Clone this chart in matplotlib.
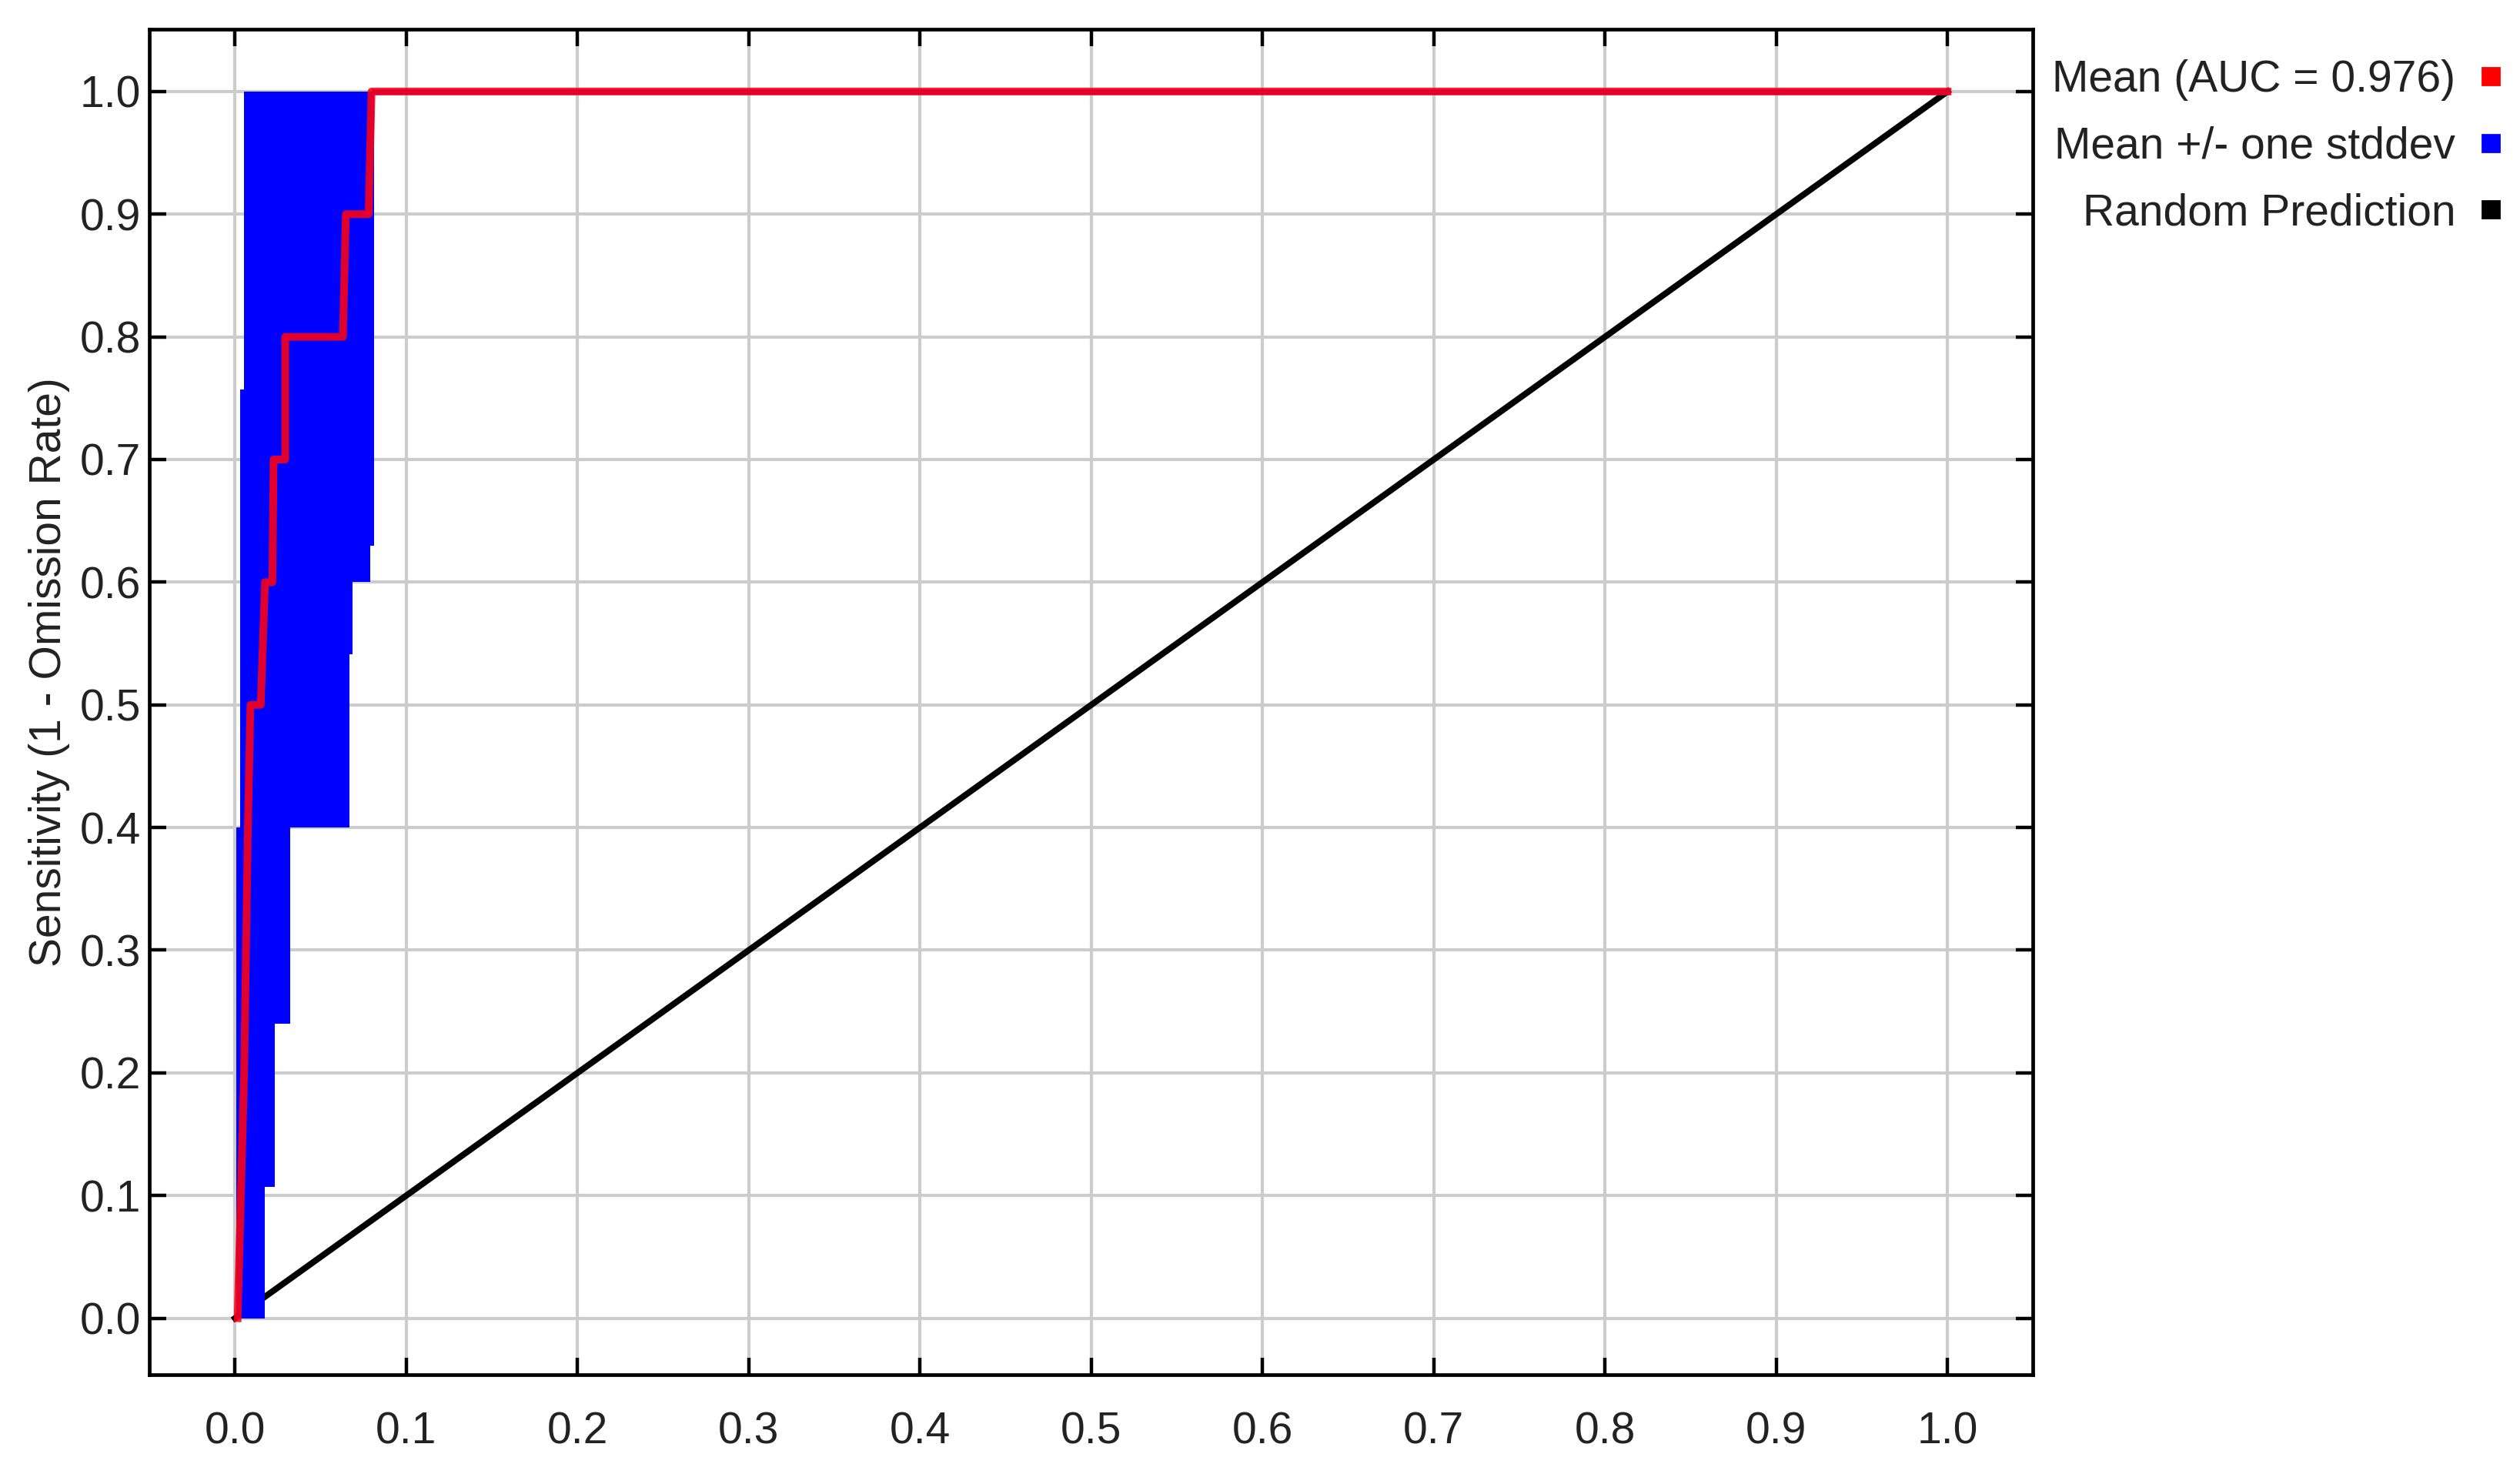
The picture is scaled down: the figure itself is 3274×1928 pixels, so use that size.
import matplotlib
matplotlib.use('Agg')
import matplotlib.pyplot as plt
from matplotlib.lines import Line2D

plt.rcParams['font.family'] = ['Liberation Sans', 'DejaVu Sans']

# mean ROC curve (1 - specificity, sensitivity)
mean_fpr = [0.0015, 0.0053, 0.0075, 0.009, 0.015, 0.0175, 0.0218, 0.0225, 0.0293,
            0.0293, 0.063, 0.0647, 0.078, 0.0797, 1.0]
mean_tpr = [0.0, 0.2, 0.4, 0.5, 0.5, 0.6, 0.6, 0.7, 0.7,
            0.8, 0.8, 0.9, 0.9, 1.0, 1.0]

# mean +/- one stddev band (left / right bounds per sensitivity level)
band_tpr = [0.0, 0.107, 0.24, 0.40, 0.541, 0.60, 0.63, 0.757, 1.0]
band_left = [0.0008, 0.0008, 0.0008, 0.003, 0.003, 0.003, 0.003, 0.0053, 0.0053]
band_right = [0.0173, 0.0233, 0.0323, 0.0669, 0.0684, 0.079, 0.0812, 0.0812, 0.0812]

rand_x = [0.0, 1.0]
rand_y = [0.0, 1.0]

ticks = [0.0, 0.1, 0.2, 0.3, 0.4, 0.5, 0.6, 0.7, 0.8, 0.9, 1.0]
labels = ['Mean (AUC = 0.976)', 'Mean +/- one stddev', 'Random Prediction']
colors = ['#ff0000', '#0000ff', '#000000']

fig = plt.figure(figsize=(16.37, 9.64), dpi=200)
ax = fig.add_axes([0.0593, 0.0737, 0.7475, 0.9068])

ax.plot(rand_x, rand_y, color='black', lw=2.9, zorder=2)
ax.fill_betweenx(band_tpr, band_left, band_right, step='post', color='#0000ff',
                 lw=0, zorder=3)
ax.plot([band_right[-1], 1.0], [1.0, 1.0], color='#0000ff', lw=2.5, zorder=3)
ax.plot(mean_fpr, mean_tpr, color='#ff0010', lw=3.6, alpha=0.88, zorder=4)

ax.set_xlim(-0.05, 1.05)
ax.set_ylim(-0.046, 1.051)
ax.set_xticks(ticks)
ax.set_yticks(ticks)
ax.set_xticklabels(['%.1f' % t for t in ticks])
ax.set_yticklabels(['%.1f' % t for t in ticks])
ax.grid(True, color='#cccccc', lw=1.5, zorder=0)
ax.set_axisbelow(True)

ax.tick_params(direction='in', length=8, width=1.6, top=True, right=True,
               labelsize=20.5, labelcolor='#222222')
ax.tick_params(axis='x', pad=17)
ax.tick_params(axis='y', pad=4)
for s in ax.spines.values():
    s.set_linewidth(1.7)

ax.set_ylabel('Sensitivity (1 - Omission Rate)', fontsize=20.5, color='#222222')
ax.yaxis.set_label_coords(-0.042, 0.522)

handles = [Line2D([], [], marker='s', ls='none', color=c, markersize=8) for c in colors]
fig.legend(handles, labels, loc='upper right', bbox_to_anchor=(0.997, 0.960),
           bbox_transform=fig.transFigure, frameon=False, markerfirst=False,
           fontsize=20.5, handlelength=1.0, handletextpad=0.3, labelspacing=0.57,
           borderpad=0, borderaxespad=0, labelcolor='#222222')

plt.savefig('out.png', dpi=200)
